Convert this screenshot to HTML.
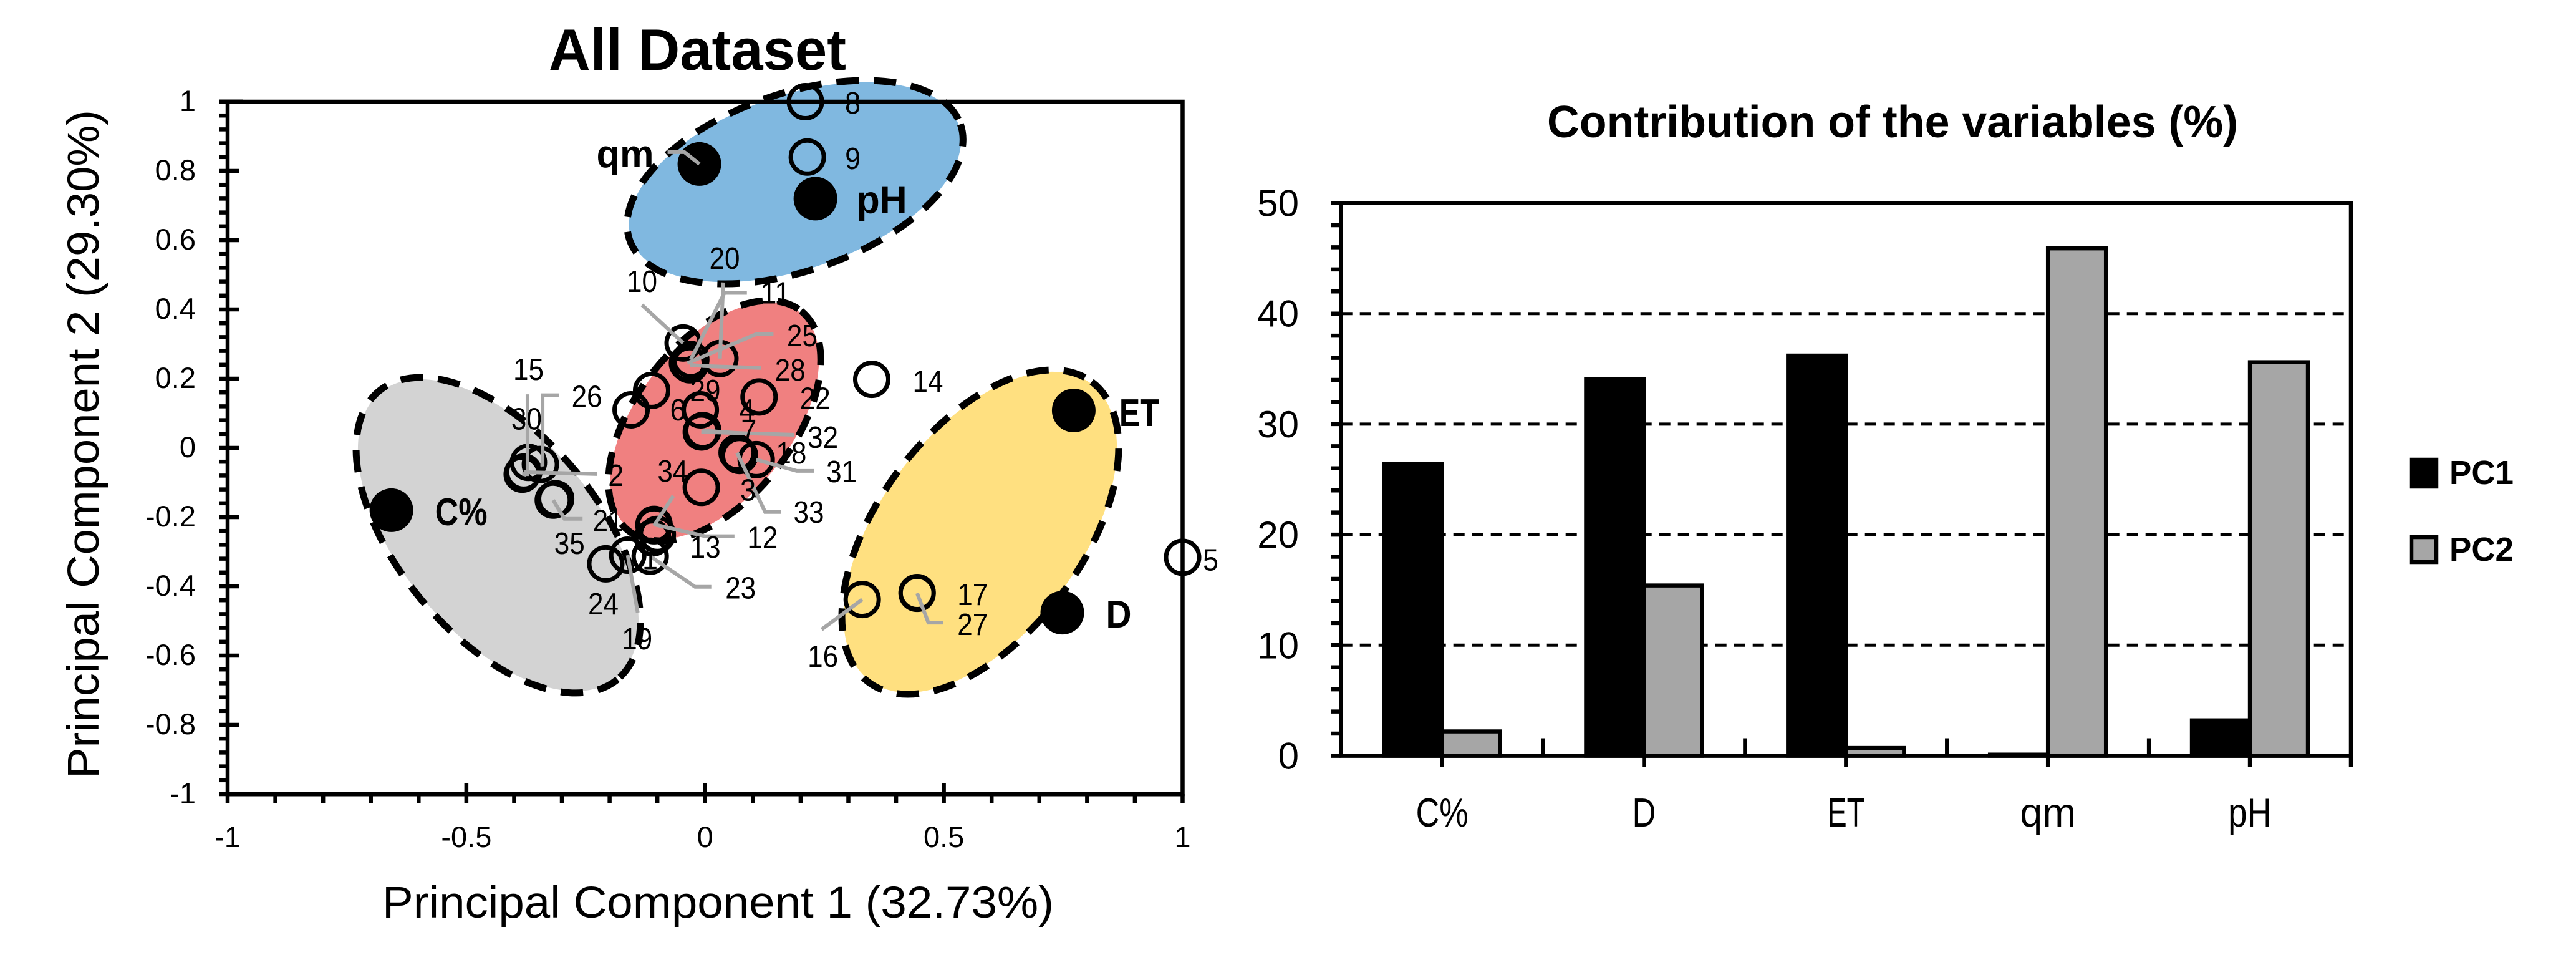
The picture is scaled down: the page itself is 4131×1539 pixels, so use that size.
<!DOCTYPE html>
<html lang="en">
<head>
<meta charset="utf-8">
<title>All Dataset PCA and variable contribution</title>
<style>
html,body{margin:0;padding:0;background:#fff}
svg{display:block}
text{font-family:"Liberation Sans",sans-serif;fill:#000}
</style>
</head>
<body>
<svg id="fig" xmlns="http://www.w3.org/2000/svg" width="4131" height="1539" viewBox="0 0 4131 1539">
<g id="pca"></g>
<g id="bars"></g>
</svg>
<script>
/* ---------- scatter data ---------- */
const obsIds = [1,2,3,4,5,6,7,8,9,10,11,12,13,14,15,16,17,18,19,20,21,22,23,24,25,26,27,28,29,30,31,32,33,34,35];
const obsPC1 = [-0.11,-0.38,-0.008,-0.01,1,-0.155,-0.005,0.21,0.214,-0.046,-0.03,-0.107,-0.10,0.349,-0.383,0.329,0.444,0.072,-0.162,0.031,-0.313,0.113,-0.115,-0.208,-0.037,-0.345,0.444,-0.032,-0.112,-0.37,0.107,-0.008,0.067,-0.107,-0.318];
const obsPC2 = [-0.26,-0.07,-0.114,0.11,-0.316,0.11,0.05,1,0.84,0.303,0.255,-0.221,-0.25,0.198,-0.076,-0.438,-0.418,-0.022,-0.31,0.258,-0.147,0.147,-0.313,-0.335,0.245,-0.048,-0.42,0.24,0.166,-0.042,-0.034,0.046,-0.014,-0.225,-0.151];
const varNames = ["qm","pH","ET","C%","D"];
const varPC1 = [-0.012,0.231,0.772,-0.657,0.748];
const varPC2 = [0.82,0.72,0.108,-0.18,-0.476];
const xTickLabels = ["-1","-0.5","0","0.5","1"];
const yTickLabels = ["-1","-0.8","-0.6","-0.4","-0.2","0","0.2","0.4","0.6","0.8","1"];

/* ---------- bar chart data ---------- */
const categories = ["C%","D","ET","qm","pH"];
const pc1Contribution = [26.4,34.1,36.2,0.1,3.2];
const pc2Contribution = [2.2,15.4,0.7,45.9,35.6];
const barTickLabels = ["0","10","20","30","40","50"];

/* ---------- annotation layout (offsets from each point, not data) ---------- */
const labelLayout = {
 1:{l:[-4,33]},2:{l:[148,5],p:[[118,3]]},3:{l:[75,4]},4:{l:[75,0]},5:{l:[45,4]},6:{l:[75,0]},
 7:{l:[74,-1],p:[[72,5]]},8:{l:[76,2]},9:{l:[73,2]},10:{l:[-66,-99],p:[[-66,-61]]},
 11:{l:[136,-107],p:[[90,-107],[54,-107]]},12:{l:[174,21],p:[[129,19],[82,19]]},13:{l:[77,20]},
 14:{l:[90,3]},15:{l:[10,-168],p:[[8.5,-128],[8.5,0]]},16:{l:[-63,91],p:[[-65,48]]},17:{l:[89,3]},
 18:{l:[83,-4]},19:{l:[15,134],p:[[16,92]]},20:{l:[7.5,-161],p:[[5.5,-122]]},21:{l:[84,35]},
 22:{l:[90,2]},23:{l:[145,51],p:[[98,49],[72,49]]},24:{l:[-4,64]},25:{l:[184,-44],p:[[138,-47],[112,-47]]},
 26:{l:[74.5,-109],p:[[30,-111],[3.5,-111],[3.5,0]]},27:{l:[89,50],p:[[42,47],[18,47]]},
 28:{l:[161,8],p:[[114,5],[22,2]]},29:{l:[86,0]},30:{l:[-3,-70]},31:{l:[137,19],p:[[93,18],[65,18]]},
 32:{l:[195,8.5],p:[[149,4.5]]},33:{l:[115,95],p:[[70.5,95],[45,95]]},34:{l:[30,-88],p:[[31,-48]]},
 35:{l:[26,69],p:[[47,30],[18,30]]}
};
const varLabelLayout = {"qm":{dx:-165,dy:5,w:92},"pH":{dx:66,dy:23,w:81},"ET":{dx:73,dy:25,w:64},"C%":{dx:70,dy:24,w:84},"D":{dx:70,dy:24,w:41}};
const clusterLayout = [
 {name:"cluster-ellipse-grey",cx:799,cy:858,a:305,b:166,rot:50.4,fill:"#D3D3D3"},
 {name:"cluster-ellipse-blue",cx:1275,cy:292,a:286,b:147,rot:-19.3,fill:"#80B8E0"},
 {name:"cluster-ellipse-red",cx:1146,cy:674.5,a:229,b:131,rot:-51.85,fill:"#F08080"},
 {name:"cluster-ellipse-yellow",cx:1572,cy:853,a:305,b:169,rot:-53.45,fill:"#FFE080"}
];
const catLabelWidth = {"C%":84,"D":38,"ET":60,"qm":90,"pH":70};

const NS = "http://www.w3.org/2000/svg";
function mk(tag, attrs, parent, name){
  const el = document.createElementNS(NS, tag);
  for (const k in attrs) el.setAttribute(k, attrs[k]);
  
  
  parent.appendChild(el);
  return el;
}
function txt(str, x, y, size, parent, name, o){
  o = o || {};
  const a = {x:x, y:y, "font-size":size, "text-anchor":o.anchor||"middle"};
  if (o.bold) a["font-weight"] = "bold";
  if (o.w){ a.textLength = o.w; a.lengthAdjust = "spacingAndGlyphs"; }
  if (o.transform) a.transform = o.transform;
  const el = mk("text", a, parent, name);
  el.textContent = str;
  return el;
}
function line(x1,y1,x2,y2,w,parent,name,color){
  return mk("line",{x1:x1,y1:y1,x2:x2,y2:y2,stroke:color||"#000","stroke-width":w},parent,name);
}

/* ---------- PCA scatter ---------- */
(function(){
  const g = document.getElementById("pca");
  const L=365, R=1896.5, T=163, B=1273;
  const sx = v => L + (v+1)/2*(R-L);
  const sy = v => B - (v+1)/2*(B-T);

  txt("All Dataset",1118.5,112,94,g,"chart-title",{bold:true,w:477});
  txt("Principal Component 1 (32.73%)",1151.5,1471,71,g,"x-axis-title",{w:1077});
  txt("Principal Component 2 (29.30%)",158,712,71,g,"y-axis-title",{w:1072,transform:"rotate(-90 158 712)"});

  clusterLayout.forEach(c=>{
    mk("ellipse",{cx:c.cx,cy:c.cy,rx:c.a-8,ry:c.b-8,fill:c.fill,transform:`rotate(${c.rot} ${c.cx} ${c.cy})`},g,c.name);
  });

  mk("rect",{x:L,y:T,width:R-L,height:B-T,fill:"none",stroke:"#000","stroke-width":6.5},g,"plot-frame");
  line(352,T,390,T,7,g,"y-tick-top");
  for(let i=0;i<=50;i++){
    const v=-1+i*0.04, y=sy(v);
    const major=i%5===0;
    line(352,y,major&&i<50?383:L,y,6.5,g,major?"y-major-tick":"y-minor-tick");
  }
  for(let i=0;i<=20;i++){
    const v=-1+i*0.1, x=sx(v);
    const major=i%5===0&&i>0&&i<20;
    line(x,major?1256:B,x,1287,6.5,g,major?"x-major-tick":"x-minor-tick");
  }
  line(L-3,B,R+3,B,7,g,"x-axis-line");
  xTickLabels.forEach(t=>txt(t,sx(parseFloat(t)),1358,47,g,"x-tick-label"));
  yTickLabels.forEach(t=>txt(t,314,sy(parseFloat(t))+15,47,g,"y-tick-label",{anchor:"end"}));

  clusterLayout.forEach(c=>{
    mk("ellipse",{cx:c.cx,cy:c.cy,rx:c.a-5,ry:c.b-5,fill:"none",stroke:"#000","stroke-width":11,"stroke-dasharray":"36 24",transform:`rotate(${c.rot} ${c.cx} ${c.cy})`},g,c.name+"-outline");
  });

  varNames.forEach((n,i)=>{
    mk("circle",{cx:sx(varPC1[i]),cy:sy(varPC2[i]),r:35,fill:"#000"},g,"variable-point-"+n);
  });
  obsIds.forEach((id,i)=>{
    mk("circle",{cx:sx(obsPC1[i]),cy:sy(obsPC2[i]),r:26.5,fill:"none",stroke:"#000","stroke-width":7},g,"observation-point-"+id);
  });
  obsIds.forEach((id,i)=>{
    const lay=labelLayout[id];
    if(!lay.p) return;
    const X=sx(obsPC1[i]),Y=sy(obsPC2[i]);
    const pts=lay.p.map(q=>(X+q[0])+","+(Y+q[1]));
    pts.push(X+","+Y);
    mk("polyline",{points:pts.join(" "),fill:"none",stroke:"#A6A6A6","stroke-width":6},g,"leader-line-"+id);
  });
  {
    const X=sx(varPC1[0]),Y=sy(varPC2[0]);
    mk("polyline",{points:`${X-51},${Y-19} ${X-24},${Y-19} ${X},${Y}`,fill:"none",stroke:"#A6A6A6","stroke-width":6},g,"leader-line-qm");
  }
  obsIds.forEach((id,i)=>{
    const lay=labelLayout[id];
    txt(String(id),sx(obsPC1[i])+lay.l[0],sy(obsPC2[i])+lay.l[1]+17,49,g,"observation-label-"+id,{w:String(id).length>1?49:25});
  });
  varNames.forEach((n,i)=>{
    const v=varLabelLayout[n];
    txt(n,sx(varPC1[i])+v.dx,sy(varPC2[i])+v.dy,62,g,"variable-label-"+n,{anchor:"start",bold:true,w:v.w});
  });
})();

/* ---------- contribution bars ---------- */
(function(){
  const g = document.getElementById("bars");
  const L=2150.7, R=3770, T=325.5, B=1211.5, MAX=50;
  const band=(R-L)/categories.length, barW=93;
  const sy = v => B - v/MAX*(B-T);
  const cx = i => L + band*(i+0.5);

  txt("Contribution of the variables (%)",3035,220,72,g,"bar-chart-title",{bold:true,w:1108});

  barTickLabels.forEach(t=>{
    const v=parseFloat(t);
    if(v>0&&v<MAX) mk("line",{x1:L,y1:sy(v),x2:R,y2:sy(v),stroke:"#000","stroke-width":5,"stroke-dasharray":"18 12"},g,"gridline");
    txt(t,2083,sy(v)+21,60,g,"bar-y-tick-label",{anchor:"end"});
  });
  mk("rect",{x:L,y:T,width:R-L,height:B-T,fill:"none",stroke:"#000","stroke-width":6.5},g,"bar-plot-frame");
  for(let i=0;i<=MAX/2;i++){
    const v=i*2;
    line(2134,sy(v),L,sy(v),6.5,g,"bar-y-tick");
  }
  categories.forEach((c,i)=>{
    line(cx(i),B,cx(i),1229,6.5,g,"bar-x-tick");
    if(i>0) line(L+band*i,B,L+band*i,B-28,6.5,g,"bar-category-tick");
    txt(c,cx(i),1325,65,g,"bar-x-label",{w:catLabelWidth[c]});
  });
  line(R,B,R,1229,6.5,g,"bar-x-end-tick");

  categories.forEach((c,i)=>{
    mk("rect",{x:cx(i)-barW,y:sy(pc1Contribution[i]),width:barW,height:B-sy(pc1Contribution[i]),fill:"#000",stroke:"#000","stroke-width":6.5},g,"bar-pc1-"+c);
    mk("rect",{x:cx(i),y:sy(pc2Contribution[i]),width:barW,height:B-sy(pc2Contribution[i]),fill:"#A6A6A6",stroke:"#000","stroke-width":6.5},g,"bar-pc2-"+c);
  });
  line(2134,B,R+3,B,6.5,g,"bar-x-axis-line");

  mk("rect",{x:3867,y:737,width:40,height:43,fill:"#000",stroke:"#000","stroke-width":6.5},g,"legend-swatch-pc1");
  txt("PC1",3928,776,54,g,"legend-label-pc1",{anchor:"start",bold:true,w:103});
  mk("rect",{x:3867,y:861,width:40,height:40,fill:"#A6A6A6",stroke:"#000","stroke-width":6.5},g,"legend-swatch-pc2");
  txt("PC2",3928,899,54,g,"legend-label-pc2",{anchor:"start",bold:true,w:103});
})();
</script>
</body>
</html>
